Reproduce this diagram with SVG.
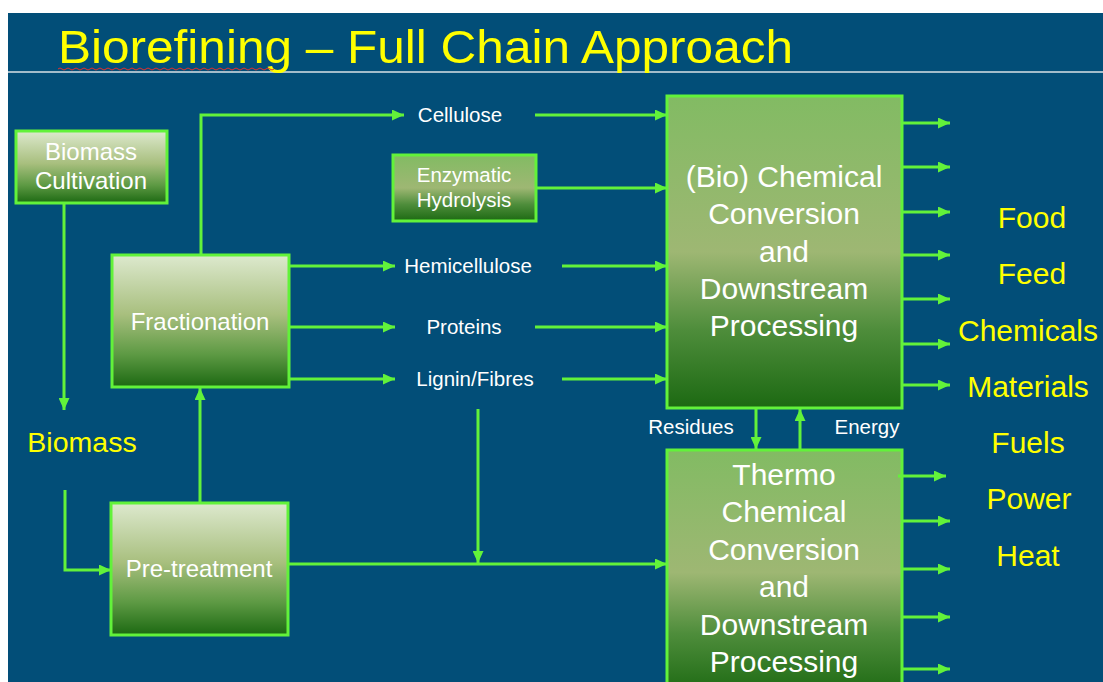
<svg xmlns="http://www.w3.org/2000/svg" width="1103" height="682" viewBox="0 0 1103 682">
<style>
.box{stroke:#62F23A;stroke-width:3}
.lbl{font-family:"Liberation Sans",Arial,sans-serif;fill:#FFFFFF;text-anchor:middle}
.big{font-size:30px}
.mid{font-size:24px}
.sm{font-size:20.5px}
.yel{font-family:"Liberation Sans",Arial,sans-serif;fill:#FFFF00;font-size:30px;text-anchor:middle}
.con{fill:none;stroke:#62F23A;stroke-width:3;marker-end:url(#ah)}
</style>
<defs>
<linearGradient id="gLight" x1="0" y1="0" x2="0" y2="1">
<stop offset="0" stop-color="#DDE9CE"/>
<stop offset="0.45" stop-color="#A8BF7E"/>
<stop offset="0.75" stop-color="#5E9A44"/>
<stop offset="1" stop-color="#1C6912"/>
</linearGradient>
<linearGradient id="gMid" x1="0" y1="0" x2="0" y2="1">
<stop offset="0" stop-color="#82BB63"/>
<stop offset="0.5" stop-color="#9EB773"/>
<stop offset="0.75" stop-color="#4E8D3B"/>
<stop offset="1" stop-color="#1C6912"/>
</linearGradient>
<marker id="ah" markerUnits="userSpaceOnUse" markerWidth="12" markerHeight="11" refX="12" refY="5.5" orient="auto">
<path d="M0,0 L12,5.5 L0,11 z" fill="#62F23A"/>
</marker>
</defs>
<rect x="0" y="0" width="1103" height="682" fill="#FFFFFF"/>
<rect x="8" y="13" width="1095" height="669" fill="#024E78"/>
<line x1="8" y1="72" x2="1103" y2="72" stroke="#A3BCCA" stroke-width="2"/>
<g id="title">
<text x="58" y="63" font-family="'Liberation Sans',Arial,sans-serif" font-size="47" fill="#FFFF00" textLength="735" lengthAdjust="spacingAndGlyphs">Biorefining – Full Chain Approach</text>
<path d="M58,69 q2,-2 4,0 t4,0 t4,0 t4,0 t4,0 t4,0 t4,0 t4,0 t4,0 t4,0 t4,0 t4,0 t4,0 t4,0 t4,0 t4,0 t4,0 t4,0 t4,0 t4,0 t4,0 t4,0 t4,0 t4,0 t4,0 t4,0 t4,0 t4,0 t4,0 t4,0 t4,0 t4,0 t4,0 t4,0 t4,0 t4,0 t4,0 t4,0 t4,0 t4,0 t4,0 t4,0 t4,0 t4,0 t4,0 t4,0 t4,0 t4,0 t4,0 t4,0 t4,0 t4,0 t4,0 t4,0" fill="none" stroke="#E03030" stroke-width="1"/>
</g>
<g id="biomass-cultivation">
<rect class="box" x="16" y="131" width="151" height="72" fill="url(#gLight)"/>
<text class="lbl mid" x="91" y="160">Biomass</text>
<text class="lbl mid" x="91" y="189">Cultivation</text>
</g>
<g id="biomass">
<text x="82" y="452" font-family="'Liberation Sans',Arial,sans-serif" font-size="28.5" fill="#FFFF00" text-anchor="middle">Biomass</text>
</g>
<g id="fractionation">
<rect class="box" x="112" y="255" width="177" height="132" fill="url(#gLight)"/>
<text class="lbl mid" x="200" y="330">Fractionation</text>
</g>
<g id="pre-treatment">
<rect class="box" x="111" y="503" width="177" height="132" fill="url(#gLight)"/>
<text class="lbl mid" x="199" y="577">Pre-treatment</text>
</g>
<g id="enzymatic-hydrolysis">
<rect class="box" x="393" y="155" width="143" height="66" fill="url(#gMid)"/>
<text class="lbl sm" x="464" y="182">Enzymatic</text>
<text class="lbl sm" x="464" y="207">Hydrolysis</text>
</g>
<g id="cellulose"><text class="lbl sm" x="460" y="122">Cellulose</text></g>
<g id="hemicellulose"><text class="lbl sm" x="468" y="273">Hemicellulose</text></g>
<g id="proteins"><text class="lbl sm" x="464" y="334">Proteins</text></g>
<g id="lignin-fibres"><text class="lbl sm" x="475" y="386">Lignin/Fibres</text></g>
<g id="bio-chemical">
<rect class="box" x="667" y="96" width="235" height="312" fill="url(#gMid)"/>
<text class="lbl big" x="784" y="187">(Bio) Chemical</text>
<text class="lbl big" x="784" y="224">Conversion</text>
<text class="lbl big" x="784" y="262">and</text>
<text class="lbl big" x="784" y="299">Downstream</text>
<text class="lbl big" x="784" y="336">Processing</text>
</g>
<g id="thermo-chemical">
<rect class="box" x="667" y="450" width="235" height="245" fill="url(#gMid)"/>
<text class="lbl big" x="784" y="485">Thermo</text>
<text class="lbl big" x="784" y="522">Chemical</text>
<text class="lbl big" x="784" y="560">Conversion</text>
<text class="lbl big" x="784" y="597">and</text>
<text class="lbl big" x="784" y="635">Downstream</text>
<text class="lbl big" x="784" y="672">Processing</text>
</g>
<g id="residues"><text class="lbl sm" x="691" y="434">Residues</text></g>
<g id="energy"><text class="lbl sm" x="867" y="434">Energy</text></g>
<g id="products">
<text class="yel" x="1032" y="228">Food</text>
<text class="yel" x="1032" y="284">Feed</text>
<text class="yel" x="1028" y="341">Chemicals</text>
<text class="yel" x="1028" y="397">Materials</text>
<text class="yel" x="1028" y="453">Fuels</text>
<text class="yel" x="1029" y="509">Power</text>
<text class="yel" x="1028" y="566">Heat</text>
</g>
<g id="connectors">
<path class="con" d="M64,203 V410"/>
<path class="con" d="M65,490 V570 H111"/>
<path class="con" d="M200,503 V388"/>
<path class="con" d="M201,255 V115 H404"/>
<path class="con" d="M535,115 H667"/>
<path class="con" d="M536,188 H667"/>
<path class="con" d="M289,266 H395"/>
<path class="con" d="M562,266 H667"/>
<path class="con" d="M289,327 H395"/>
<path class="con" d="M535,327 H667"/>
<path class="con" d="M289,379 H395"/>
<path class="con" d="M562,379 H667"/>
<path class="con" d="M478,409 V563"/>
<path class="con" d="M288,564 H667"/>
<path class="con" d="M756,408 V449"/>
<path class="con" d="M800,450 V409"/>
<path class="con" d="M902,123 H950"/>
<path class="con" d="M902,167 H950"/>
<path class="con" d="M902,212 H950"/>
<path class="con" d="M902,255 H950"/>
<path class="con" d="M902,299 H950"/>
<path class="con" d="M902,344 H950"/>
<path class="con" d="M902,385 H950"/>
<path class="con" d="M898,476 H946"/>
<path class="con" d="M902,521 H950"/>
<path class="con" d="M902,569 H950"/>
<path class="con" d="M902,617 H950"/>
<path class="con" d="M902,669 H950"/>
</g>
</svg>
